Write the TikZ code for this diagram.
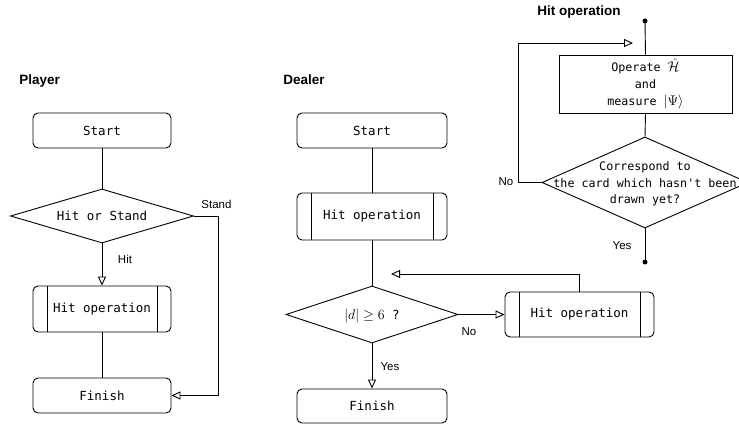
\RequirePackage{fix-cm}
\documentclass[tikz,border=0pt]{standalone}
\usepackage{fontspec}
\setmainfont{Liberation Sans}
\setmonofont{DejaVu Sans Mono}
\usetikzlibrary{arrows.meta,shapes.geometric}
\newcommand{\dtxt}[1]{\makebox[0pt]{\smash{\raisebox{-0.7ex}{\begin{tabular}{@{}c@{}}#1\end{tabular}}}}}
\newcommand{\mybigmath}[1]{{\fontsize{14}{16}\selectfont$#1$}}
\begin{document}
\begin{tikzpicture}[x=1pt,y=-1pt,line width=0.9pt,
  mono/.style={font=\ttfamily\fontsize{12.5}{15}\selectfont},
  monos/.style={font=\ttfamily\fontsize{11.7}{16.5}\selectfont},
  termbox/.style={draw, rounded corners=5pt, inner sep=0pt, mono},
  procbox/.style={draw, rounded corners=5pt, inner sep=0pt, mono,
    path picture={\draw[line width=0.9pt]
      ([xshift=14pt]path picture bounding box.north west) -- ([xshift=14pt]path picture bounding box.south west)
      ([xshift=-14pt]path picture bounding box.north east) -- ([xshift=-14pt]path picture bounding box.south east);}},
  decbox/.style={draw, diamond, inner sep=0pt, mono},
  lbl/.style={inner sep=0pt, font=\fontsize{11.5}{13}\selectfont},
  ttl/.style={inner sep=0pt, anchor=base west, font=\bfseries\fontsize{13.5}{16}\selectfont},
  arr/.style={-{Triangle[open,length=9pt,width=8pt]}},
  dotn/.style={circle, fill, inner sep=0pt, minimum size=5pt}]
\useasboundingbox (0,0) rectangle (739,425);
\begin{scope}
\clip (0,0) rectangle (739,425);
% ---------- Player ----------
\node[ttl] (ptitle) at (19,85) {Player};
\node[termbox, minimum width=138pt, minimum height=35pt] (pstart) at (102,130.5) {Start};
\node[decbox, minimum width=183pt, minimum height=54pt] (pdec) at (102,216) {\dtxt{Hit or Stand}};
\node[procbox, minimum width=138pt, minimum height=46pt] (phit) at (102,309) {Hit operation};
\node[termbox, minimum width=138pt, minimum height=35pt] (pfin) at (102,395.5) {Finish};
\draw (pstart.south) -- (pdec.north);
\draw[arr] (pdec.south) -- (phit.north);
\draw (phit.south) -- (pfin.north);
\draw[arr] (pdec.east) -- ++(24,0) |- (pfin.east);
\node[lbl] (pstand) at (216.5,204) {Stand};
\node[lbl] (phitl) at (125,259) {Hit};
% ---------- Dealer ----------
\node[ttl] (dtitle) at (283,85) {Dealer};
\node[termbox, minimum width=150pt, minimum height=35pt] (dstart) at (372,130.5) {Start};
\node[procbox, minimum width=150pt, minimum height=47pt] (dhit) at (372,216.5) {Hit operation};
\node[decbox, minimum width=172pt, minimum height=57pt] (ddec) at (372,314.5) {\dtxt{\mybigmath{|d| \geq 6} ?}};
\node[termbox, minimum width=150pt, minimum height=34pt] (dfin) at (372,406) {Finish};
\node[procbox, minimum width=149pt, minimum height=45pt] (dhit2) at (579.5,314.5) {Hit operation};
\coordinate (dback) at (391,274);
\draw (dstart.south) -- (dhit.north);
\draw (dhit.south) -- (ddec.north);
\draw[arr] (ddec.south) -- (dfin.north);
\draw[arr] (ddec.east) -- (dhit2.west);
\draw[arr] (dhit2.north) |- (dback);
\node[lbl] (dno) at (469,332) {No};
\node[lbl] (dyes) at (390,367) {Yes};
% ---------- Hit operation ----------
\node[ttl] (htitle) at (537,16) {Hit operation};
\node[dotn] (hd1) at (645,21) {};
\node[draw, inner sep=0pt, font=\ttfamily\fontsize{11.7}{17}\selectfont, align=center, minimum width=173pt, minimum height=58pt] (hbox) at (645.5,84)
  {Operate \mybigmath{\hat{\mathcal{H}}}\\and\\measure \mybigmath{|\Psi\rangle}};
\node[decbox, monos, minimum width=206pt, minimum height=91pt] (hdec) at (645,182.5)
  {\dtxt{Correspond to\\the card which hasn't been\\drawn yet?}};
\node[dotn] (hd2) at (645,262) {};
\coordinate (hback) at (633,43);
\draw (hd1.center) -- (hbox.north);
\draw (hbox.south) -- (hdec.north);
\draw (hdec.south) -- (hd2.center);
\draw[arr] (hdec.west) -- ++(-23,0) |- (hback);
\node[lbl] (hno) at (506,182) {No};
\node[lbl] (hyes) at (622,246) {Yes};
\end{scope}
\end{tikzpicture}
\end{document}
